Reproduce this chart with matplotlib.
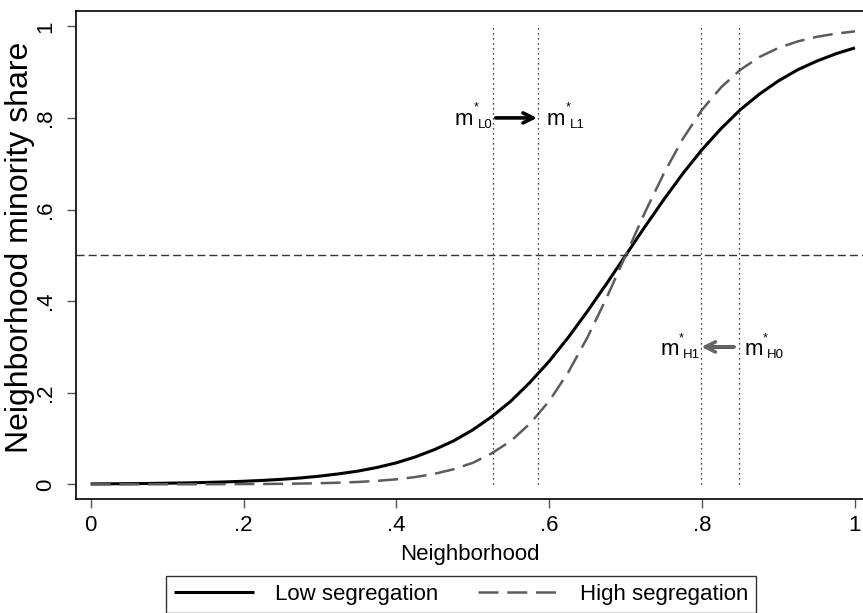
import numpy as np
import matplotlib
matplotlib.use("Agg")
import matplotlib.pyplot as plt

plt.rcParams['font.family'] = ['Liberation Sans', 'DejaVu Sans']

# values
share = [0.0, 0.025, 0.05, 0.075, 0.1, 0.125, 0.15, 0.175, 0.2, 0.225, 0.25, 0.275,
         0.3, 0.325, 0.35, 0.375, 0.4, 0.425, 0.45, 0.475, 0.5, 0.525, 0.55, 0.575,
         0.6, 0.625, 0.65, 0.675, 0.7, 0.725, 0.75, 0.775, 0.8, 0.825, 0.85, 0.875,
         0.9, 0.925, 0.95, 0.975, 1.0]
low_seg = [0.001, 0.0012, 0.0015, 0.0019, 0.0025, 0.0032, 0.0041, 0.0052, 0.0067, 0.0086,
           0.011, 0.014, 0.018, 0.023, 0.029, 0.037, 0.047, 0.060, 0.076, 0.095, 0.119,
           0.148, 0.182, 0.223, 0.269, 0.321, 0.378, 0.438, 0.5, 0.562, 0.622, 0.679,
           0.731, 0.777, 0.818, 0.852, 0.881, 0.905, 0.924, 0.940, 0.953]
high_seg = [0.0, 0.0, 0.0001, 0.0001, 0.0001, 0.0002, 0.0003, 0.0004, 0.0006, 0.0008,
            0.0012, 0.0017, 0.0025, 0.0036, 0.0052, 0.0076, 0.011, 0.016, 0.023, 0.033,
            0.047, 0.068, 0.095, 0.133, 0.182, 0.245, 0.321, 0.407, 0.5, 0.593, 0.679,
            0.755, 0.818, 0.867, 0.905, 0.933, 0.953, 0.967, 0.977, 0.984, 0.989]

thresholds = [0.527, 0.585, 0.799, 0.848]   # dotted vertical lines
hline = 0.5
yticks = [0, 0.2, 0.4, 0.6, 0.8, 1]
ytick_labels = ["0", ".2", ".4", ".6", ".8", "1"]
xtick_labels = ["0", ".2", ".4", ".6", ".8", "1"]

W, H = 863, 613
fig = plt.figure(figsize=(W / 100, H / 100), dpi=100)
ax = fig.add_axes([76 / W, (H - 499) / H, (W - 76) / W, (499 - 11) / H])

fs = 16
ax.plot(share, low_seg, color='black', lw=2.2, label='Low segregation', solid_capstyle='butt')
ax.plot(share, high_seg, color='#5c5c5c', lw=1.8, linestyle=(0, (8, 3.5)),
        label='High segregation')

ax.axhline(hline, color='#333333', lw=1.0, linestyle=(0, (5.8, 2.9)))
for t in thresholds:
    ax.plot([t, t], [0, 1], color='black', lw=0.9, linestyle=(0, (1, 3)))

def mlabel(x, y, sub):
    ax.text(x, y, "m", fontsize=fs, ha='left', va='baseline')
    ax.annotate("*", xy=(x, y), xytext=(19, 14), textcoords='offset pixels',
                fontsize=9, ha='left', va='baseline')
    ax.annotate(sub, xy=(x, y), xytext=(23, -3), textcoords='offset pixels',
                fontsize=9.5, ha='left', va='baseline')

mlabel(0.4766, 0.785, "L0")
mlabel(0.597, 0.785, "L1")
mlabel(0.745, 0.282, "H1")
mlabel(0.855, 0.282, "H0")

ax.annotate('', xy=(0.584, 0.8), xytext=(0.530, 0.8),
            arrowprops=dict(arrowstyle='->', lw=2.6, color='black',
                            shrinkA=0, shrinkB=0, mutation_scale=18))
ax.annotate('', xy=(0.799, 0.3), xytext=(0.842, 0.3),
            arrowprops=dict(arrowstyle='->', lw=2.6, color='#666666',
                            shrinkA=0, shrinkB=0, mutation_scale=18))
ax.plot([0.807, 0.842], [0.3, 0.3], color='black', lw=2.6, solid_capstyle='butt')

ax.set_xlim(-0.0192, 1.0105)
ax.set_ylim(-0.032, 1.0334)
ax.set_xticks(yticks)
ax.set_xticklabels(xtick_labels)
ax.set_yticks(yticks)
ax.set_yticklabels(ytick_labels, rotation=90, va='center')
ax.tick_params(axis='both', length=6.5, width=1, color='#555555', labelsize=fs, pad=5)
ax.tick_params(axis='y', pad=8)
ax.spines['right'].set_visible(False)
for s in ['left', 'bottom', 'top']:
    ax.spines[s].set_linewidth(1.2)

ax.set_xlabel("Neighborhood", fontsize=fs, labelpad=6)
ax.set_ylabel("Neighborhood minority share", fontsize=23)
ax.yaxis.set_label_coords(-0.052, (499 - 247) / (499 - 11))

leg = fig.legend(loc='upper center', bbox_to_anchor=(461 / W, 1 - 576 / H), ncol=2,
                 fontsize=fs, frameon=True, fancybox=False, edgecolor='black',
                 handlelength=3.6, handletextpad=0.95, columnspacing=1.8,
                 borderpad=0.35, borderaxespad=0)
leg.get_frame().set_linewidth(1.0)

fig.savefig("out.png", dpi=100)
